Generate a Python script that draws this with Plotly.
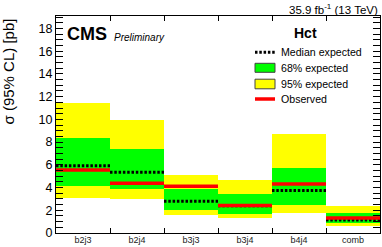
import plotly.graph_objects as go

categories = ["b2j3", "b2j4", "b3j3", "b3j4", "b4j4", "comb"]
median_exp = [5.93, 5.34, 2.79, 2.40, 3.73, 1.15]
observed = [5.55, 4.37, 4.11, 2.41, 4.31, 1.32]
band68_lo = [4.17, 3.90, 2.00, 1.67, 2.50, 0.85]
band68_hi = [8.40, 7.37, 3.90, 3.41, 5.72, 1.76]
band95_lo = [3.08, 2.97, 1.56, 1.32, 1.80, 0.65]
band95_hi = [11.48, 9.92, 5.10, 4.64, 8.69, 2.41]
y_ticks = [0, 2, 4, 6, 8, 10, 12, 14, 16, 18]
legend_labels = ["Median expected", "68% expected", "95% expected", "Observed"]

FONT = "Liberation Sans, Arial, Helvetica, sans-serif"
W, H = 382, 247
ML, MR, MT, MB = 56, 2, 16, 14
PW, PH = W - ML - MR, H - MT - MB
n = len(categories)
centers = list(range(n))
edges = [i + 0.5 for i in range(n - 1)]


def px(x):
    return (x - ML) / PW


def py(y):
    return (H - MB - y) / PH


def seg(vals):
    xs, ys = [], []
    for i, v in enumerate(vals):
        xs += [i - 0.5, i + 0.5, None]
        ys += [v, v, None]
    return xs, ys


DASH = "2.5px,1.8px"
fig = go.Figure()
fig.add_trace(go.Bar(x=centers, y=[h - l for h, l in zip(band95_hi, band95_lo)], base=band95_lo,
                     width=1, marker=dict(color="#FFFF00", line=dict(width=0)), showlegend=False,
                     hoverinfo="skip"))
fig.add_trace(go.Bar(x=centers, y=[h - l for h, l in zip(band68_hi, band68_lo)], base=band68_lo,
                     width=1, marker=dict(color="#00FF00", line=dict(width=0)), showlegend=False,
                     hoverinfo="skip"))
mx, my = seg(median_exp)
fig.add_trace(go.Scatter(x=mx, y=my, mode="lines", line=dict(color="black", width=3, dash=DASH),
                         showlegend=False))
ox, oy = seg(observed)
fig.add_trace(go.Scatter(x=ox, y=oy, mode="lines", line=dict(color="#FF0000", width=3.5),
                         showlegend=False))
fig.add_trace(go.Scatter(x=centers, y=[None] * n, xaxis="x2", showlegend=False, hoverinfo="skip"))

fig.update_layout(
    width=W, height=H,
    margin=dict(l=ML, r=MR, t=MT, b=MB),
    paper_bgcolor="white", plot_bgcolor="white",
    barmode="overlay", bargap=0,
    font=dict(family=FONT, color="black"),
    showlegend=False,
    xaxis=dict(range=[-0.5, n - 0.5], tickvals=edges, showticklabels=False, ticks="inside",
               ticklen=5, tickcolor="black", showline=True, linecolor="black", linewidth=1,
               mirror="ticks", showgrid=False, zeroline=False),
    xaxis2=dict(range=[-0.5, n - 0.5], overlaying="x", anchor="y", side="bottom",
                tickvals=centers, ticktext=categories, ticks="", showline=False, showgrid=False,
                zeroline=False, tickfont=dict(size=9, family=FONT, color="#222222")),
    yaxis=dict(range=[0, 19.1], tickvals=y_ticks, ticks="inside", ticklen=7, tickcolor="black",
               showline=True, linecolor="black", linewidth=1, mirror="allticks", showgrid=False,
               zeroline=False, tickfont=dict(size=12.5, family=FONT, color="black"),
               minor=dict(dtick=0.5, ticks="inside", ticklen=4, tickcolor="black", showgrid=False)),
)

# manual legend (keys + labels)
key_x0, key_x1, text_x = 255, 275, 279
rows = [52.3, 67.8, 84.0, 99.0]
fig.add_shape(type="line", xref="paper", yref="paper", x0=px(key_x0), x1=px(key_x1),
              y0=py(rows[0]), y1=py(rows[0]), line=dict(color="black", width=3, dash=DASH))
fig.add_shape(type="rect", xref="paper", yref="paper", x0=px(key_x0), x1=px(key_x1),
              y0=py(rows[1] - 4.5), y1=py(rows[1] + 4.5), fillcolor="#00FF00",
              line=dict(color="#444444", width=1))
fig.add_shape(type="rect", xref="paper", yref="paper", x0=px(key_x0), x1=px(key_x1),
              y0=py(rows[2] - 4.8), y1=py(rows[2] + 4.8), fillcolor="#FFFF00",
              line=dict(color="#444444", width=1))
fig.add_shape(type="line", xref="paper", yref="paper", x0=px(key_x0), x1=px(key_x1),
              y0=py(rows[3]), y1=py(rows[3]), line=dict(color="#FF0000", width=3.5))
for lab, r in zip(legend_labels, rows):
    fig.add_annotation(text=lab, xref="paper", yref="paper", x=px(text_x), y=py(r),
                       xanchor="left", yanchor="middle", showarrow=False,
                       font=dict(size=10.6, family=FONT, color="black"))
fig.add_annotation(text="<b>Hct</b>", xref="paper", yref="paper", x=px(305), y=py(33),
                   xanchor="center", yanchor="middle", showarrow=False,
                   font=dict(size=14, family=FONT, color="black"))

fig.add_annotation(text="σ (95% CL) [pb]", textangle=-90, xref="paper", yref="paper",
                   x=px(8), y=py(71.5), xanchor="center", yanchor="middle", showarrow=False,
                   font=dict(size=15, family=FONT, color="black"))
fig.add_annotation(text="<b>CMS</b>", xref="paper", yref="paper", x=px(65), y=py(34),
                   xanchor="left", yanchor="middle", showarrow=False,
                   font=dict(size=18, family=FONT, color="black"))
fig.add_annotation(text="<i>Preliminary</i>", xref="paper", yref="paper", x=px(112), y=py(37),
                   xanchor="left", yanchor="middle", showarrow=False,
                   font=dict(size=10, family=FONT, color="black"))
fig.add_annotation(text="35.9 fb<sup>-1</sup> (13 TeV)", xref="paper", yref="paper", x=px(380),
                   y=py(9), xanchor="right", yanchor="middle", showarrow=False,
                   font=dict(size=11.5, family=FONT, color="black"))

fig.write_html("out.html", config={"displayModeBar": False},
               post_script="document.body.style.margin='0';")
